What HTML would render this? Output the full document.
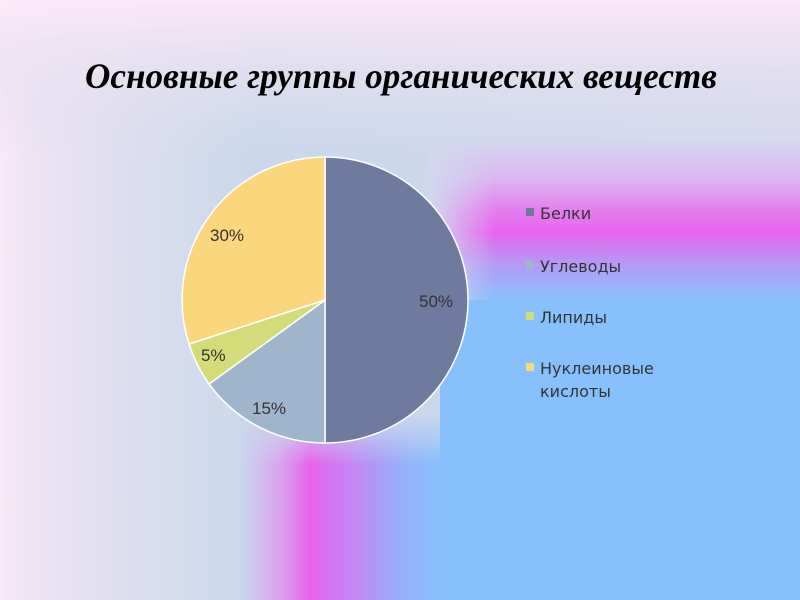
<!DOCTYPE html>
<html><head><meta charset="utf-8"><style>
html,body{margin:0;padding:0;width:800px;height:600px;overflow:hidden}
</style></head><body>
<svg width="800" height="600" xmlns="http://www.w3.org/2000/svg">
<defs>
<linearGradient id="base" x1="0" y1="0" x2="800" y2="0" gradientUnits="userSpaceOnUse">
<stop offset="0" stop-color="#fbe9f8"/>
<stop offset="0.04" stop-color="#eee4f4"/>
<stop offset="0.19" stop-color="#d8dcee"/>
<stop offset="0.32" stop-color="#cad8ec"/>
<stop offset="1" stop-color="#d4d8ee"/>
</linearGradient>
<linearGradient id="top" x1="0" y1="0" x2="0" y2="160" gradientUnits="userSpaceOnUse">
<stop offset="0" stop-color="#fce8f8" stop-opacity="1"/>
<stop offset="0.3" stop-color="#efe4f4" stop-opacity="0.8"/>
<stop offset="1" stop-color="#dcdcee" stop-opacity="0"/>
</linearGradient>
<linearGradient id="gv" x1="0" y1="140" x2="0" y2="300" gradientUnits="userSpaceOnUse">
<stop offset="0" stop-color="#d4d8ee"/>
<stop offset="0.25" stop-color="#dcb4f0"/>
<stop offset="0.45" stop-color="#e47cee"/>
<stop offset="0.58" stop-color="#e766ee"/>
<stop offset="0.78" stop-color="#b49af6"/>
<stop offset="1" stop-color="#88c0fe"/>
</linearGradient>
<linearGradient id="gh" x1="240" y1="0" x2="440" y2="0" gradientUnits="userSpaceOnUse">
<stop offset="0" stop-color="#c9d8ec"/>
<stop offset="0.2" stop-color="#d8a4ee"/>
<stop offset="0.35" stop-color="#e862ee"/>
<stop offset="0.6" stop-color="#bc8cf6"/>
<stop offset="0.8" stop-color="#98aefc"/>
<stop offset="1" stop-color="#88c0fe"/>
</linearGradient>
<linearGradient id="fadeL" x1="430" y1="0" x2="495" y2="0" gradientUnits="userSpaceOnUse">
<stop offset="0" stop-color="#d2d8ee" stop-opacity="1"/>
<stop offset="1" stop-color="#d2d8ee" stop-opacity="0"/>
</linearGradient>
<linearGradient id="fadeT" x1="0" y1="415" x2="0" y2="465" gradientUnits="userSpaceOnUse">
<stop offset="0" stop-color="#cad8ec" stop-opacity="1"/>
<stop offset="1" stop-color="#cad8ec" stop-opacity="0"/>
</linearGradient>
</defs>
<rect width="800" height="600" fill="url(#base)"/>
<rect width="800" height="160" fill="url(#top)"/>
<rect x="430" y="140" width="370" height="161" fill="url(#gv)"/>
<rect x="430" y="140" width="65" height="161" fill="url(#fadeL)"/>
<rect x="240" y="300" width="201" height="300" fill="url(#gh)"/>
<rect x="240" y="300" width="200" height="165" fill="url(#fadeT)"/>
<rect x="440" y="300" width="360" height="300" fill="#88c0fe"/>
<text x="401" y="88" text-anchor="middle" font-family="Liberation Serif, serif" font-style="italic" font-weight="bold" font-size="36" textLength="632" lengthAdjust="spacingAndGlyphs" fill="#000">Основные группы органических веществ</text>
<g stroke="#fff" stroke-width="1.5">
<path d="M325,300 L325,157 A143,143 0 0 1 325,443 Z" fill="#6e7a9e"/>
<path d="M325,300 L325,443 A143,143 0 0 1 209,384 Z" fill="#9fb5cc"/>
<path d="M325,300 L209,384 A143,143 0 0 1 189,344 Z" fill="#d4dc7a"/>
<path d="M325,300 L189,344 A143,143 0 0 1 325,157 Z" fill="#fad77c"/>
</g>
<g font-family="Liberation Sans, sans-serif" font-size="17" fill="#333">
<text x="419" y="307">50%</text>
<text x="252" y="414">15%</text>
<text x="201" y="361">5%</text>
<text x="210" y="241">30%</text>
</g>
<rect x="526" y="208" width="8" height="8" fill="#6e7a9e"/>
<rect x="526" y="261" width="8" height="8" fill="#9fb5cc"/>
<rect x="526" y="312" width="8" height="8" fill="#d4dc7a"/>
<rect x="526" y="363" width="8" height="8" fill="#fad77c"/>
<g font-family="DejaVu Sans, sans-serif" font-size="16" fill="#333">
<text x="540" y="219">Белки</text>
<text x="540" y="272">Углеводы</text>
<text x="540" y="323">Липиды</text>
<text x="540" y="374">Нуклеиновые</text>
<text x="540" y="397">кислоты</text>
</g>
</svg>
</body></html>
